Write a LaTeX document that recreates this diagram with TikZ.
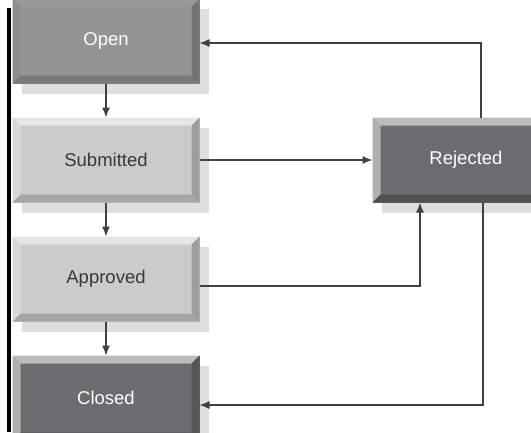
\documentclass[tikz,border=0pt]{standalone}
\usepackage{fontspec}
\setmainfont{Liberation Sans}
\usepackage{tikz}
\usetikzlibrary{arrows.meta, positioning, shadows}

\definecolor{shadowgray}{HTML}{DCDEE0}
\definecolor{linegray}{HTML}{404142}
\definecolor{lightface}{HTML}{C9CBCD}
\definecolor{midface}{HTML}{929496}
\definecolor{darkface}{HTML}{6A6C6F}

\newcommand{\bw}{8pt}
% bevel faces: top, left, bottom, right
\newcommand{\bevelfaces}[4]{%
  \coordinate (bnw) at (path picture bounding box.north west);
  \coordinate (bse) at (path picture bounding box.south east);
  \coordinate (bne) at (bnw -| bse);
  \coordinate (bsw) at (bnw |- bse);
  \fill[#1] (bnw) -- (bne) -- ([shift={(-\bw,-\bw)}]bne) -- ([shift={(\bw,-\bw)}]bnw) -- cycle;
  \fill[#2] (bnw) -- ([shift={(\bw,-\bw)}]bnw) -- ([shift={(\bw,\bw)}]bsw) -- (bsw) -- cycle;
  \fill[#3] (bsw) -- ([shift={(\bw,\bw)}]bsw) -- ([shift={(-\bw,\bw)}]bse) -- (bse) -- cycle;
  \fill[#4] (bse) -- ([shift={(-\bw,\bw)}]bse) -- ([shift={(-\bw,-\bw)}]bne) -- (bne) -- cycle;
}

\begin{document}
\begin{tikzpicture}[
    x=1pt, y=-1pt,
    bevel box/.style={rectangle, minimum width=187pt, minimum height=85pt, inner sep=0pt, outer sep=0pt,
        font=\fontsize{18.5}{21}\selectfont,
        general shadow={fill=shadowgray, shadow xshift=9pt, shadow yshift=-10pt}},
    openbox/.style={bevel box, fill=midface, text=white,
        path picture={\bevelfaces{fill=midface!95!white}{fill=midface!95!black}{fill=midface!82!black}{fill=midface!78!black}}},
    lightbox/.style={bevel box, fill=lightface, text=black!78,
        path picture={\bevelfaces{fill=lightface!50!white}{fill=lightface!75!white}{fill=lightface!82!black}{fill=lightface!78!black}}},
    darkbox/.style={bevel box, fill=darkface, text=white,
        path picture={\bevelfaces{fill=lightface!92!black}{fill=lightface!86!black}{fill=darkface!75!black}{fill=darkface!80!black}}},
    line/.style={draw, linegray, line width=1.3pt, -{Latex[length=10pt, width=8pt]}}
]
    \useasboundingbox (0,0) rectangle (531,432);
    \clip (0,0) rectangle (531,432);
    \fill[white] (0,0) rectangle (531,432);

    % Nodes
    \node [openbox] (open) at (106,41) {Open};
    \node [lightbox, below=34pt of open] (submitted) {Submitted};
    \node [lightbox, below=34pt of submitted] (approved) {Approved};
    \node [darkbox, below=34pt of approved] (closed) {Closed};
    \node [darkbox, right=173pt of submitted] (rejected) {Rejected};

    % left margin rule
    \draw [black, line width=3.5pt] (9,8) -- (9,432);

    % Paths
    \path [line] (open) -- (submitted);
    \path [line] (submitted) -- (approved);
    \path [line] (approved) -- (closed);
    \path [line] (submitted) -- (rejected);
    \path [line] ([yshift=-7pt]approved.east) -| ([xshift=-46pt]rejected.south);
    \path [line] ([xshift=15pt]rejected.north) |- ([yshift=-2pt]open.east);
    \path [line] ([xshift=17pt]rejected.south) |- ([yshift=-7pt]closed.east);

\end{tikzpicture}
\end{document}
